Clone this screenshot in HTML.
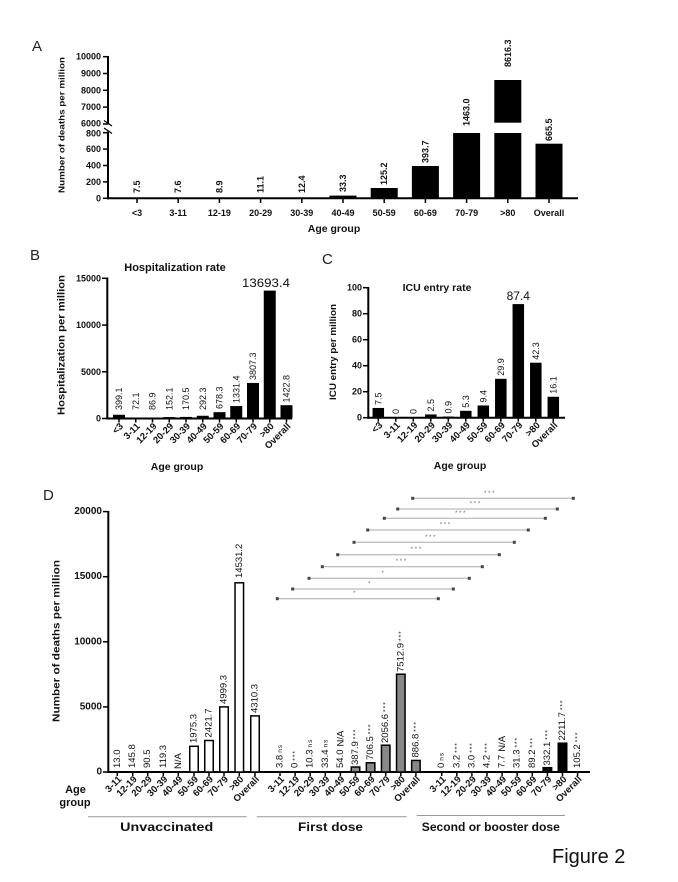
<!DOCTYPE html>
<html><head><meta charset="utf-8">
<style>
html,body{margin:0;padding:0;background:#fff;}
svg{display:block;}
text{font-family:"Liberation Sans",Arial,sans-serif;fill:#111;}
.pl{font-size:15px;fill:#222;}
.tk{font-size:9px;font-weight:bold;text-anchor:end;dominant-baseline:central;}
.tkd{font-size:10px;font-weight:bold;text-anchor:end;dominant-baseline:central;}
.xl{font-size:9px;font-weight:bold;text-anchor:middle;}
.va{font-size:9px;font-weight:bold;dominant-baseline:central;text-anchor:start;}
.v{font-size:9px;dominant-baseline:central;text-anchor:start;}
.vd{font-size:9.5px;dominant-baseline:central;text-anchor:start;}
.xr{font-size:9.5px;font-weight:bold;text-anchor:end;dominant-baseline:central;}
.st{font-size:6.5px;fill:#777;text-anchor:middle;letter-spacing:1.5px;}
.sf{font-size:6.5px;letter-spacing:1px;}
</style></head><body>
<svg width="678" height="882" viewBox="0 0 678 882" xmlns="http://www.w3.org/2000/svg">

<!-- ================= PANEL A ================= -->
<text class="pl" x="32" y="51">A</text>
<g stroke="#000" stroke-width="2" fill="none">
<line x1="108" y1="56" x2="108" y2="124.5"/>
<line x1="108" y1="131.5" x2="108" y2="199.3"/>
<line x1="107" y1="198.3" x2="578" y2="198.3"/>
</g>
<path d="M104,120.5 L112,126 M104,128 L112,133.5" stroke="#000" stroke-width="1.2" fill="none"/>
<g stroke="#000" stroke-width="1.5">
<line x1="103" y1="56.7" x2="108" y2="56.7"/>
<line x1="103" y1="73.5" x2="108" y2="73.5"/>
<line x1="103" y1="90.3" x2="108" y2="90.3"/>
<line x1="103" y1="107.1" x2="108" y2="107.1"/>
<line x1="103" y1="124" x2="108" y2="124"/>
<line x1="103" y1="132.7" x2="108" y2="132.7"/>
<line x1="103" y1="149.1" x2="108" y2="149.1"/>
<line x1="103" y1="165.5" x2="108" y2="165.5"/>
<line x1="103" y1="181.9" x2="108" y2="181.9"/>
<line x1="103" y1="198.3" x2="108" y2="198.3"/>
<line x1="137" y1="198.3" x2="137" y2="203"/>
<line x1="178.2" y1="198.3" x2="178.2" y2="203"/>
<line x1="219.4" y1="198.3" x2="219.4" y2="203"/>
<line x1="260.6" y1="198.3" x2="260.6" y2="203"/>
<line x1="301.8" y1="198.3" x2="301.8" y2="203"/>
<line x1="343" y1="198.3" x2="343" y2="203"/>
<line x1="384.2" y1="198.3" x2="384.2" y2="203"/>
<line x1="425.4" y1="198.3" x2="425.4" y2="203"/>
<line x1="466.6" y1="198.3" x2="466.6" y2="203"/>
<line x1="507.8" y1="198.3" x2="507.8" y2="203"/>
<line x1="549" y1="198.3" x2="549" y2="203"/>
</g>
<text class="tk" x="101" y="56.7">10000</text>
<text class="tk" x="101" y="73.5">9000</text>
<text class="tk" x="101" y="90.3">8000</text>
<text class="tk" x="101" y="107.1">7000</text>
<text class="tk" x="101" y="123.3">6000</text>
<text class="tk" x="101" y="133.4">800</text>
<text class="tk" x="101" y="149.1">600</text>
<text class="tk" x="101" y="165.5">400</text>
<text class="tk" x="101" y="181.9">200</text>
<text class="tk" x="101" y="198.3">0</text>
<text transform="translate(62,125) rotate(-90)" text-anchor="middle" dominant-baseline="central" font-size="8" font-weight="bold" textLength="136" lengthAdjust="spacingAndGlyphs">Number of deaths per million</text>
<g fill="#000">
<rect x="329.5" y="195.6" width="27" height="2.7"/>
<rect x="370.7" y="188" width="27" height="10.3"/>
<rect x="411.9" y="166" width="27" height="32.3"/>
<rect x="453.1" y="133" width="27" height="65.3"/>
<rect x="494.3" y="133" width="27" height="65.3"/>
<rect x="494.3" y="80" width="27" height="42.7"/>
<rect x="535.5" y="143.7" width="27" height="54.6"/>
</g>
<text class="va" transform="translate(137,193) rotate(-90)">7.5</text>
<text class="va" transform="translate(178.2,193) rotate(-90)">7.6</text>
<text class="va" transform="translate(219.4,193) rotate(-90)">8.9</text>
<text class="va" transform="translate(260.6,193) rotate(-90)">11.1</text>
<text class="va" transform="translate(301.8,193) rotate(-90)">12.4</text>
<text class="va" transform="translate(343,192) rotate(-90)">33.3</text>
<text class="va" transform="translate(384.2,185) rotate(-90)">125.2</text>
<text class="va" transform="translate(425.4,163) rotate(-90)">393.7</text>
<text class="va" transform="translate(466.6,126) rotate(-90)">1463.0</text>
<text class="va" transform="translate(507.8,67) rotate(-90)">8616.3</text>
<text class="va" transform="translate(549,141) rotate(-90)">665.5</text>
<text class="xl" x="137" y="216">&lt;3</text>
<text class="xl" x="178.2" y="216">3-11</text>
<text class="xl" x="219.4" y="216">12-19</text>
<text class="xl" x="260.6" y="216">20-29</text>
<text class="xl" x="301.8" y="216">30-39</text>
<text class="xl" x="343" y="216">40-49</text>
<text class="xl" x="384.2" y="216">50-59</text>
<text class="xl" x="425.4" y="216">60-69</text>
<text class="xl" x="466.6" y="216">70-79</text>
<text class="xl" x="507.8" y="216">&gt;80</text>
<text class="xl" x="549" y="216">Overall</text>
<text x="334" y="232" text-anchor="middle" font-size="10.5" font-weight="bold">Age group</text>

<!-- ================= PANEL B ================= -->
<text class="pl" x="30" y="260">B</text>
<text x="175" y="271" text-anchor="middle" font-size="11" font-weight="bold">Hospitalization rate</text>
<g stroke="#000" stroke-width="2" fill="none">
<line x1="107.3" y1="277.5" x2="107.3" y2="419.5"/>
<line x1="106.3" y1="418.5" x2="292" y2="418.5"/>
</g>
<g stroke="#000" stroke-width="1.5">
<line x1="102" y1="278.3" x2="107.3" y2="278.3"/>
<line x1="102" y1="325.1" x2="107.3" y2="325.1"/>
<line x1="102" y1="371.8" x2="107.3" y2="371.8"/>
<line x1="102" y1="418.5" x2="107.3" y2="418.5"/>
<line x1="119" y1="418.5" x2="119" y2="422.5"/>
<line x1="135.75" y1="418.5" x2="135.75" y2="422.5"/>
<line x1="152.5" y1="418.5" x2="152.5" y2="422.5"/>
<line x1="169.25" y1="418.5" x2="169.25" y2="422.5"/>
<line x1="186" y1="418.5" x2="186" y2="422.5"/>
<line x1="202.75" y1="418.5" x2="202.75" y2="422.5"/>
<line x1="219.5" y1="418.5" x2="219.5" y2="422.5"/>
<line x1="236.25" y1="418.5" x2="236.25" y2="422.5"/>
<line x1="253" y1="418.5" x2="253" y2="422.5"/>
<line x1="269.75" y1="418.5" x2="269.75" y2="422.5"/>
<line x1="286.5" y1="418.5" x2="286.5" y2="422.5"/>
</g>
<text class="tk" x="101" y="278.3">15000</text>
<text class="tk" x="101" y="325.1">10000</text>
<text class="tk" x="101" y="371.8">5000</text>
<text class="tk" x="101" y="418.5">0</text>
<text transform="translate(62,345) rotate(-90)" text-anchor="middle" dominant-baseline="central" font-size="10" font-weight="bold" textLength="140" lengthAdjust="spacingAndGlyphs">Hospitalization per million</text>
<g fill="#000">
<rect x="113" y="414.77" width="12" height="3.73"/>
<rect x="129.75" y="417.5" width="12" height="1"/>
<rect x="146.5" y="417.5" width="12" height="1"/>
<rect x="163.25" y="417.08" width="12" height="1.42"/>
<rect x="180" y="416.91" width="12" height="1.59"/>
<rect x="196.75" y="415.77" width="12" height="2.73"/>
<rect x="213.5" y="412.16" width="12" height="6.34"/>
<rect x="230.25" y="406.06" width="12" height="12.44"/>
<rect x="247" y="382.94" width="12" height="35.56"/>
<rect x="263.75" y="290.6" width="12" height="127.9"/>
<rect x="280.5" y="405.21" width="12" height="13.29"/>
</g>
<text class="v" transform="translate(119,410) rotate(-90)">399.1</text>
<text class="v" transform="translate(135.75,410) rotate(-90)">72.1</text>
<text class="v" transform="translate(152.5,410) rotate(-90)">86.9</text>
<text class="v" transform="translate(169.25,410) rotate(-90)">152.1</text>
<text class="v" transform="translate(186,410) rotate(-90)">170.5</text>
<text class="v" transform="translate(202.75,410) rotate(-90)">292.3</text>
<text class="v" transform="translate(219.5,409) rotate(-90)">678.3</text>
<text class="v" transform="translate(236.25,403) rotate(-90)">1331.4</text>
<text class="v" transform="translate(253,380) rotate(-90)">3807.3</text>
<text class="v" transform="translate(286.5,402.5) rotate(-90)">1422.8</text>
<text x="266" y="287" text-anchor="middle" font-size="12" textLength="48" lengthAdjust="spacingAndGlyphs">13693.4</text>
<text class="xr" transform="translate(122,425) rotate(-45)">&lt;3</text>
<text class="xr" transform="translate(138.75,425) rotate(-45)">3-11</text>
<text class="xr" transform="translate(155.5,425) rotate(-45)">12-19</text>
<text class="xr" transform="translate(172.25,425) rotate(-45)">20-29</text>
<text class="xr" transform="translate(189,425) rotate(-45)">30-39</text>
<text class="xr" transform="translate(205.75,425) rotate(-45)">40-49</text>
<text class="xr" transform="translate(222.5,425) rotate(-45)">50-59</text>
<text class="xr" transform="translate(239.25,425) rotate(-45)">60-69</text>
<text class="xr" transform="translate(256,425) rotate(-45)">70-79</text>
<text class="xr" transform="translate(272.75,425) rotate(-45)">&gt;80</text>
<text class="xr" transform="translate(289.5,425) rotate(-45)">Overall</text>
<text x="177" y="470" text-anchor="middle" font-size="10.5" font-weight="bold">Age group</text>

<!-- ================= PANEL C ================= -->
<text class="pl" x="322" y="264" font-size="16">C</text>
<text x="437" y="291" text-anchor="middle" font-size="10.5" font-weight="bold">ICU entry rate</text>
<g stroke="#000" stroke-width="2" fill="none">
<line x1="368.3" y1="287" x2="368.3" y2="418.7"/>
<line x1="367.3" y1="417.7" x2="565" y2="417.7"/>
</g>
<g stroke="#000" stroke-width="1.5">
<line x1="363" y1="287.7" x2="368.3" y2="287.7"/>
<line x1="363" y1="313.7" x2="368.3" y2="313.7"/>
<line x1="363" y1="339.7" x2="368.3" y2="339.7"/>
<line x1="363" y1="365.7" x2="368.3" y2="365.7"/>
<line x1="363" y1="391.7" x2="368.3" y2="391.7"/>
<line x1="363" y1="417.7" x2="368.3" y2="417.7"/>
<line x1="378.3" y1="417.7" x2="378.3" y2="421.7"/>
<line x1="395.8" y1="417.7" x2="395.8" y2="421.7"/>
<line x1="413.3" y1="417.7" x2="413.3" y2="421.7"/>
<line x1="430.8" y1="417.7" x2="430.8" y2="421.7"/>
<line x1="448.3" y1="417.7" x2="448.3" y2="421.7"/>
<line x1="465.8" y1="417.7" x2="465.8" y2="421.7"/>
<line x1="483.3" y1="417.7" x2="483.3" y2="421.7"/>
<line x1="500.8" y1="417.7" x2="500.8" y2="421.7"/>
<line x1="518.3" y1="417.7" x2="518.3" y2="421.7"/>
<line x1="535.8" y1="417.7" x2="535.8" y2="421.7"/>
<line x1="553.3" y1="417.7" x2="553.3" y2="421.7"/>
</g>
<text class="tk" x="362" y="287.7">100</text>
<text class="tk" x="362" y="313.7">80</text>
<text class="tk" x="362" y="339.7">60</text>
<text class="tk" x="362" y="365.7">40</text>
<text class="tk" x="362" y="391.7">20</text>
<text class="tk" x="362" y="417.7">0</text>
<text transform="translate(333.3,352) rotate(-90)" text-anchor="middle" dominant-baseline="central" font-size="9.5" font-weight="bold" textLength="96" lengthAdjust="spacingAndGlyphs">ICU entry per million</text>
<g fill="#000">
<rect x="372.55" y="407.95" width="11.5" height="9.75"/>
<rect x="425.05" y="414.45" width="11.5" height="3.25"/>
<rect x="442.55" y="416.53" width="11.5" height="1.17"/>
<rect x="460.05" y="410.81" width="11.5" height="6.89"/>
<rect x="477.55" y="405.48" width="11.5" height="12.22"/>
<rect x="495.05" y="378.83" width="11.5" height="38.87"/>
<rect x="512.55" y="304.1" width="11.5" height="113.6"/>
<rect x="530.05" y="362.7" width="11.5" height="55"/>
<rect x="547.55" y="396.77" width="11.5" height="20.93"/>
</g>
<text class="v" transform="translate(378.3,405) rotate(-90)">7.5</text>
<text class="v" transform="translate(395.8,414) rotate(-90)">0</text>
<text class="v" transform="translate(413.3,414) rotate(-90)">0</text>
<text class="v" transform="translate(430.8,411.5) rotate(-90)">2.5</text>
<text class="v" transform="translate(448.3,413.5) rotate(-90)">0.9</text>
<text class="v" transform="translate(465.8,407.8) rotate(-90)">5.3</text>
<text class="v" transform="translate(483.3,402.5) rotate(-90)">9.4</text>
<text class="v" transform="translate(500.8,375.8) rotate(-90)">29.9</text>
<text class="v" transform="translate(535.8,359.7) rotate(-90)">42.3</text>
<text class="v" transform="translate(553.3,393.8) rotate(-90)">16.1</text>
<text x="518.3" y="300" text-anchor="middle" font-size="12">87.4</text>
<text class="xr" transform="translate(381.3,424) rotate(-45)">&lt;3</text>
<text class="xr" transform="translate(398.8,424) rotate(-45)">3-11</text>
<text class="xr" transform="translate(416.3,424) rotate(-45)">12-19</text>
<text class="xr" transform="translate(433.8,424) rotate(-45)">20-29</text>
<text class="xr" transform="translate(451.3,424) rotate(-45)">30-39</text>
<text class="xr" transform="translate(468.8,424) rotate(-45)">40-49</text>
<text class="xr" transform="translate(486.3,424) rotate(-45)">50-59</text>
<text class="xr" transform="translate(503.8,424) rotate(-45)">60-69</text>
<text class="xr" transform="translate(521.3,424) rotate(-45)">70-79</text>
<text class="xr" transform="translate(538.8,424) rotate(-45)">&gt;80</text>
<text class="xr" transform="translate(556.3,424) rotate(-45)">Overall</text>
<text x="460" y="469" text-anchor="middle" font-size="10.5" font-weight="bold">Age group</text>

<!-- ================= PANEL D ================= -->
<text class="pl" x="43" y="500">D</text>
<!-- comparison brackets -->
<g stroke="#aaa" stroke-width="1">
<line x1="412.7" y1="498.3" x2="573.3" y2="498.3"/>
<line x1="397.7" y1="509" x2="557.3" y2="509"/>
<line x1="384.3" y1="518.3" x2="545.3" y2="518.3"/>
<line x1="367.7" y1="530" x2="528.3" y2="530"/>
<line x1="354" y1="542.3" x2="514.3" y2="542.3"/>
<line x1="337.7" y1="554.7" x2="499.3" y2="554.7"/>
<line x1="322.3" y1="566.7" x2="482.3" y2="566.7"/>
<line x1="309" y1="578.3" x2="469.3" y2="578.3"/>
<line x1="292.7" y1="589" x2="453.3" y2="589"/>
<line x1="277.3" y1="598.7" x2="438.3" y2="598.7"/>
</g>
<g fill="#444">
<rect x="411.2" y="496.8" width="3" height="3"/><rect x="571.8" y="496.8" width="3" height="3"/>
<rect x="396.2" y="507.5" width="3" height="3"/><rect x="555.8" y="507.5" width="3" height="3"/>
<rect x="382.8" y="516.8" width="3" height="3"/><rect x="543.8" y="516.8" width="3" height="3"/>
<rect x="366.2" y="528.5" width="3" height="3"/><rect x="526.8" y="528.5" width="3" height="3"/>
<rect x="352.5" y="540.8" width="3" height="3"/><rect x="512.8" y="540.8" width="3" height="3"/>
<rect x="336.2" y="553.2" width="3" height="3"/><rect x="497.8" y="553.2" width="3" height="3"/>
<rect x="320.8" y="565.2" width="3" height="3"/><rect x="480.8" y="565.2" width="3" height="3"/>
<rect x="307.5" y="576.8" width="3" height="3"/><rect x="467.8" y="576.8" width="3" height="3"/>
<rect x="291.2" y="587.5" width="3" height="3"/><rect x="451.8" y="587.5" width="3" height="3"/>
<rect x="275.8" y="597.2" width="3" height="3"/><rect x="436.8" y="597.2" width="3" height="3"/>
</g>
<text class="st" x="490" y="495">***</text>
<text class="st" x="475.7" y="505.5">***</text>
<text class="st" x="461" y="515">***</text>
<text class="st" x="445.7" y="526.5">***</text>
<text class="st" x="431" y="539">***</text>
<text class="st" x="416.7" y="551.2">***</text>
<text class="st" x="401.7" y="563.2">***</text>
<text class="st" x="383.3" y="575">*</text>
<text class="st" x="370" y="585.5">*</text>
<text class="st" x="355" y="595.2">*</text>

<g stroke="#000" stroke-width="2" fill="none">
<line x1="108.3" y1="511" x2="108.3" y2="773"/>
<line x1="107.3" y1="772" x2="590" y2="772"/>
</g>
<g stroke="#000" stroke-width="1.5">
<line x1="103" y1="511.6" x2="108.3" y2="511.6"/>
<line x1="103" y1="576.7" x2="108.3" y2="576.7"/>
<line x1="103" y1="641.8" x2="108.3" y2="641.8"/>
<line x1="103" y1="706.9" x2="108.3" y2="706.9"/>
<line x1="103" y1="772" x2="108.3" y2="772"/>
<line x1="117.3" y1="772" x2="117.3" y2="776"/>
<line x1="132.7" y1="772" x2="132.7" y2="776"/>
<line x1="147.7" y1="772" x2="147.7" y2="776"/>
<line x1="163.3" y1="772" x2="163.3" y2="776"/>
<line x1="178.3" y1="772" x2="178.3" y2="776"/>
<line x1="194" y1="772" x2="194" y2="776"/>
<line x1="209" y1="772" x2="209" y2="776"/>
<line x1="224" y1="772" x2="224" y2="776"/>
<line x1="239.3" y1="772" x2="239.3" y2="776"/>
<line x1="255" y1="772" x2="255" y2="776"/>
<line x1="280" y1="772" x2="280" y2="776"/>
<line x1="295.1" y1="772" x2="295.1" y2="776"/>
<line x1="310.2" y1="772" x2="310.2" y2="776"/>
<line x1="325.3" y1="772" x2="325.3" y2="776"/>
<line x1="340.4" y1="772" x2="340.4" y2="776"/>
<line x1="355.5" y1="772" x2="355.5" y2="776"/>
<line x1="370.6" y1="772" x2="370.6" y2="776"/>
<line x1="385.7" y1="772" x2="385.7" y2="776"/>
<line x1="400.8" y1="772" x2="400.8" y2="776"/>
<line x1="415.9" y1="772" x2="415.9" y2="776"/>
<line x1="441.7" y1="772" x2="441.7" y2="776"/>
<line x1="456.8" y1="772" x2="456.8" y2="776"/>
<line x1="471.9" y1="772" x2="471.9" y2="776"/>
<line x1="487" y1="772" x2="487" y2="776"/>
<line x1="502.1" y1="772" x2="502.1" y2="776"/>
<line x1="517.2" y1="772" x2="517.2" y2="776"/>
<line x1="532.3" y1="772" x2="532.3" y2="776"/>
<line x1="547.4" y1="772" x2="547.4" y2="776"/>
<line x1="562.5" y1="772" x2="562.5" y2="776"/>
<line x1="577.6" y1="772" x2="577.6" y2="776"/>
</g>
<text class="tkd" x="102" y="511.6">20000</text>
<text class="tkd" x="102" y="576.7">15000</text>
<text class="tkd" x="102" y="641.8">10000</text>
<text class="tkd" x="102" y="706.9">5000</text>
<text class="tkd" x="102" y="772">0</text>
<text transform="translate(57,641) rotate(-90)" text-anchor="middle" dominant-baseline="central" font-size="10" font-weight="bold" textLength="162" lengthAdjust="spacingAndGlyphs">Number of deaths per million</text>

<!-- unvaccinated bars -->
<g fill="#fff" stroke="#000" stroke-width="1.5">
<rect x="189.75" y="746.3" width="8.5" height="25.7"/>
<rect x="204.75" y="740.5" width="8.5" height="31.5"/>
<rect x="219.75" y="706.9" width="8.5" height="65.1"/>
<rect x="235.05" y="582.8" width="8.5" height="189.2"/>
<rect x="250.75" y="715.9" width="8.5" height="56.1"/>
</g>
<!-- first dose bars -->
<g fill="#888" stroke="#000" stroke-width="1.5">
<rect x="351.25" y="767" width="8.5" height="5"/>
<rect x="366.35" y="762.8" width="8.5" height="9.2"/>
<rect x="381.45" y="745.2" width="8.5" height="26.8"/>
<rect x="396.55" y="674.2" width="8.5" height="97.8"/>
<rect x="411.65" y="760.45" width="8.5" height="11.55"/>
</g>
<!-- second dose bars -->
<g fill="#000" stroke="#000" stroke-width="1.5">
<rect x="543.15" y="767.7" width="8.5" height="4.3"/>
<rect x="558.25" y="743.2" width="8.5" height="28.8"/>
</g>

<!-- value labels D -->
<text class="vd" transform="translate(117.3,768) rotate(-90)">13.0</text>
<text class="vd" transform="translate(132.7,768) rotate(-90)">145.8</text>
<text class="vd" transform="translate(147.7,768) rotate(-90)">90.5</text>
<text class="vd" transform="translate(163.3,768) rotate(-90)">119.3</text>
<text class="vd" transform="translate(178.3,769) rotate(-90)">N/A</text>
<text class="vd" transform="translate(194,743) rotate(-90)">1975.3</text>
<text class="vd" transform="translate(209,737.5) rotate(-90)">2421.7</text>
<text class="vd" transform="translate(224,704) rotate(-90)">4999.3</text>
<text class="vd" transform="translate(239.3,578) rotate(-90)">14531.2</text>
<text class="vd" transform="translate(255,713) rotate(-90)">4310.3</text>

<text class="vd" transform="translate(280,768) rotate(-90)">3.8<tspan class="sf" dx="2">ns</tspan></text>
<text class="vd" transform="translate(295.1,768) rotate(-90)">0<tspan class="sf" dx="2">***</tspan></text>
<text class="vd" transform="translate(310.2,768) rotate(-90)">10.3<tspan class="sf" dx="2">ns</tspan></text>
<text class="vd" transform="translate(325.3,768) rotate(-90)">33.4<tspan class="sf" dx="2">ns</tspan></text>
<text class="vd" transform="translate(340.4,768) rotate(-90)">54.0<tspan dx="3">N/A</tspan></text>
<text class="vd" transform="translate(355.5,765) rotate(-90)">387.9<tspan class="sf" dx="2">***</tspan></text>
<text class="vd" transform="translate(370.6,760) rotate(-90)">706.5<tspan class="sf" dx="2">***</tspan></text>
<text class="vd" transform="translate(385.7,743) rotate(-90)">2056.6<tspan class="sf" dx="2">***</tspan></text>
<text class="vd" transform="translate(400.8,672) rotate(-90)">7512.9<tspan class="sf" dx="2">***</tspan></text>
<text class="vd" transform="translate(415.9,757.5) rotate(-90)">886.8<tspan class="sf" dx="2">***</tspan></text>

<text class="vd" transform="translate(441.7,768) rotate(-90)">0<tspan class="sf" dx="2">ns</tspan></text>
<text class="vd" transform="translate(456.8,768) rotate(-90)">3.2<tspan class="sf" dx="2">***</tspan></text>
<text class="vd" transform="translate(471.9,768) rotate(-90)">3.0<tspan class="sf" dx="2">***</tspan></text>
<text class="vd" transform="translate(487,768) rotate(-90)">4.2<tspan class="sf" dx="2">***</tspan></text>
<text class="vd" transform="translate(502.1,768) rotate(-90)">7.7<tspan dx="3">N/A</tspan></text>
<text class="vd" transform="translate(517.2,768) rotate(-90)">31.3<tspan class="sf" dx="2">***</tspan></text>
<text class="vd" transform="translate(532.3,768) rotate(-90)">89.2<tspan class="sf" dx="2">***</tspan></text>
<text class="vd" transform="translate(547.4,765.5) rotate(-90)">332.1<tspan class="sf" dx="2">***</tspan></text>
<text class="vd" transform="translate(562.5,740.5) rotate(-90)">2211.7<tspan class="sf" dx="2">***</tspan></text>
<text class="vd" transform="translate(577.6,768) rotate(-90)">105.2<tspan class="sf" dx="2">***</tspan></text>

<!-- x labels D -->
<text class="xr" transform="translate(120.3,778) rotate(-45)">3-11</text>
<text class="xr" transform="translate(135.7,778) rotate(-45)">12-19</text>
<text class="xr" transform="translate(150.7,778) rotate(-45)">20-29</text>
<text class="xr" transform="translate(166.3,778) rotate(-45)">30-39</text>
<text class="xr" transform="translate(181.3,778) rotate(-45)">40-49</text>
<text class="xr" transform="translate(197,778) rotate(-45)">50-59</text>
<text class="xr" transform="translate(212,778) rotate(-45)">60-69</text>
<text class="xr" transform="translate(227,778) rotate(-45)">70-79</text>
<text class="xr" transform="translate(242.3,778) rotate(-45)">&gt;80</text>
<text class="xr" transform="translate(258,778) rotate(-45)">Overall</text>

<text class="xr" transform="translate(283,778) rotate(-45)">3-11</text>
<text class="xr" transform="translate(298.1,778) rotate(-45)">12-19</text>
<text class="xr" transform="translate(313.2,778) rotate(-45)">20-29</text>
<text class="xr" transform="translate(328.3,778) rotate(-45)">30-39</text>
<text class="xr" transform="translate(343.4,778) rotate(-45)">40-49</text>
<text class="xr" transform="translate(358.5,778) rotate(-45)">50-59</text>
<text class="xr" transform="translate(373.6,778) rotate(-45)">60-69</text>
<text class="xr" transform="translate(388.7,778) rotate(-45)">70-79</text>
<text class="xr" transform="translate(403.8,778) rotate(-45)">&gt;80</text>
<text class="xr" transform="translate(418.9,778) rotate(-45)">Overall</text>

<text class="xr" transform="translate(444.7,778) rotate(-45)">3-11</text>
<text class="xr" transform="translate(459.8,778) rotate(-45)">12-19</text>
<text class="xr" transform="translate(474.9,778) rotate(-45)">20-29</text>
<text class="xr" transform="translate(490,778) rotate(-45)">30-39</text>
<text class="xr" transform="translate(505.1,778) rotate(-45)">40-49</text>
<text class="xr" transform="translate(520.2,778) rotate(-45)">50-59</text>
<text class="xr" transform="translate(535.3,778) rotate(-45)">60-69</text>
<text class="xr" transform="translate(550.4,778) rotate(-45)">70-79</text>
<text class="xr" transform="translate(565.5,778) rotate(-45)">&gt;80</text>
<text class="xr" transform="translate(580.6,778) rotate(-45)">Overall</text>

<text x="75.5" y="793" text-anchor="middle" font-size="11" font-weight="bold" fill="#333">Age</text>
<text x="75" y="806" text-anchor="middle" font-size="11" font-weight="bold" fill="#333">group</text>

<g stroke="#999" stroke-width="1">
<line x1="88" y1="816.7" x2="246.7" y2="816.7"/>
<line x1="256.7" y1="816.7" x2="406.7" y2="816.7"/>
<line x1="416.7" y1="815.5" x2="565" y2="815.5"/>
</g>
<text x="166.7" y="831" text-anchor="middle" font-size="12" font-weight="bold" fill="#333" textLength="93" lengthAdjust="spacingAndGlyphs">Unvaccinated</text>
<text x="330.5" y="831" text-anchor="middle" font-size="12" font-weight="bold" fill="#333" textLength="65" lengthAdjust="spacingAndGlyphs">First dose</text>
<text x="490.8" y="831" text-anchor="middle" font-size="11.5" font-weight="bold" fill="#333" textLength="138" lengthAdjust="spacingAndGlyphs">Second or booster dose</text>

<!-- Figure caption -->
<text x="552" y="863" font-size="20" fill="#444">Figure 2</text>
</svg>
</body></html>
